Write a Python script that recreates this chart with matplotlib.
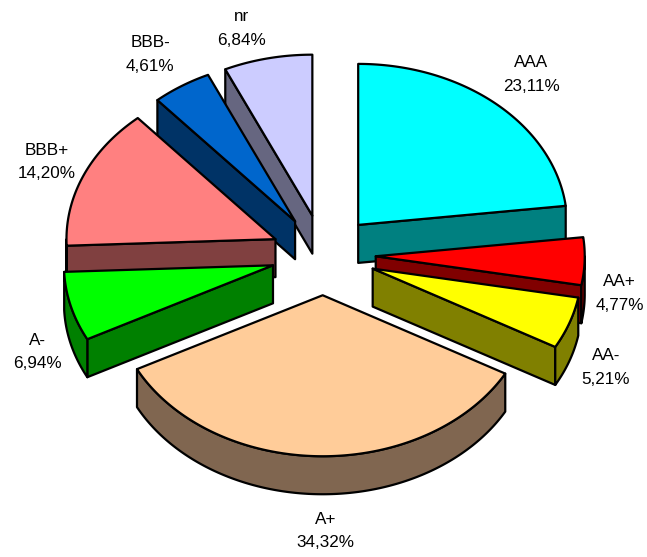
import numpy as np
import matplotlib
matplotlib.use("Agg")
import matplotlib.pyplot as plt
from matplotlib.patches import Polygon

categories = ["AAA", "AA+", "AA-", "A+", "A-", "BBB+", "BBB-", "nr"]
values = [23.11, 4.77, 5.21, 34.32, 6.94, 14.20, 4.61, 6.84]
value_labels = ["23,11%", "4,77%", "5,21%", "34,32%", "6,94%", "14,20%", "4,61%", "6,84%"]
top_colors = ["#00FFFF", "#FF0000", "#FFFF00", "#FFCC99", "#00FF00", "#FF8080", "#0066CC", "#CCCCFF"]
side_colors = ["#008080", "#800000", "#808000", "#806650", "#008000", "#804040", "#003366", "#666680"]
label_centres = [(531, 74.5), (619.5, 293.5), (606, 367.5), (325.5, 531), (37, 352), (46.5, 162), (150, 54.5), (242, 28.5)]
draw_order = [7, 6, 5, 4, 0, 1, 2, 3]

CX, CY, RX, RY, DEPTH, EXPLODE = 323.5, 255.0, 209.0, 161.0, 38.0, 0.25
LW = 1.6

fig = plt.figure(figsize=(6.47, 5.57), dpi=100)
ax = fig.add_axes([0, 0, 1, 1])
ax.set_xlim(0, 647)
ax.set_ylim(557, 0)
ax.axis("off")


def rim(theta, ox, oy, dz=0.0):
    t = np.radians(theta)
    return np.column_stack([ox + RX * np.sin(t), oy - RY * np.cos(t) + dz])


def arc_angles(a, b):
    return np.linspace(a, b, max(2, int(abs(b - a) * 2)))


edges = np.concatenate([[0], np.cumsum(values)]) * 3.6

for i in draw_order:
    start, end = edges[i], edges[i + 1]
    mid = (start + end) / 2
    m = np.radians(mid)
    ox = CX + EXPLODE * RX * np.sin(m)
    oy = CY - EXPLODE * RY * np.cos(m)
    apex = np.array([[ox, oy]])
    apex_low = np.array([[ox, oy + DEPTH]])
    style = dict(edgecolor="black", linewidth=LW, joinstyle="round")

    radial = None
    if end < 180:
        radial = end
    elif start > 180:
        radial = start
    if radial is not None:
        p = rim(np.array([radial]), ox, oy)
        q = rim(np.array([radial]), ox, oy, DEPTH)
        ax.add_patch(Polygon(np.vstack([apex, p, q, apex_low]), closed=True,
                             facecolor=side_colors[i], **style))

    lo, hi = max(start, 90), min(end, 270)
    if hi > lo:
        th = arc_angles(lo, hi)
        ax.add_patch(Polygon(np.vstack([rim(th, ox, oy), rim(th[::-1], ox, oy, DEPTH)]),
                             closed=True, facecolor=side_colors[i], **style))

    ax.add_patch(Polygon(np.vstack([apex, rim(arc_angles(start, end), ox, oy)]),
                         closed=True, facecolor=top_colors[i], **style))

for name, val, (x, y) in zip(categories, value_labels, label_centres):
    ax.text(x, y, f"{name}\n{val}", ha="center", va="center", color="black",
            family="Liberation Sans", fontsize=12.3, linespacing=1.7)

fig.savefig("out.png", dpi=100, facecolor="white")
